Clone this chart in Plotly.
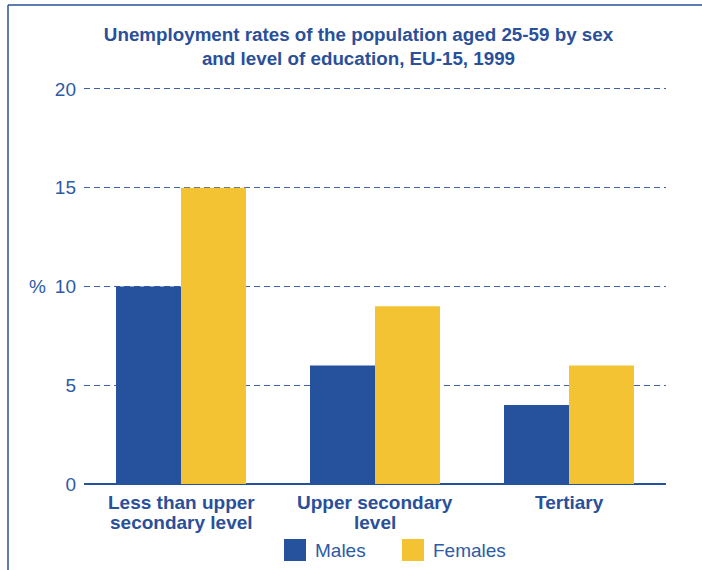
import plotly.graph_objects as go

categories = ["Less than upper<br>secondary level", "Upper secondary<br>level", "Tertiary"]
males = [10, 6, 4]
females = [15, 9, 6]
y_ticks = [0, 5, 10, 15, 20]
series_names = ["Males", "Females"]

BLUE = "#26519c"
YELLOW = "#f4c334"
TEXT = "#2a4f9b"
TICK = "#2d5aa6"
FONT = "Liberation Sans, Arial, sans-serif"

W, H = 702, 570
L, R, T, B = 84, 36, 87, 86
Y_MAX = 20.1

fig = go.Figure()
fig.add_trace(go.Bar(x=categories, y=males, name=series_names[0], marker_color=BLUE,
                     marker_line_width=0, showlegend=False))
fig.add_trace(go.Bar(x=categories, y=females, name=series_names[1], marker_color=YELLOW,
                     marker_line_width=0, showlegend=False))

pw = W - L - R
ph = H - T - B
def px_x(p):
    return (p - L) / pw
def px_y(p):
    return (H - B - p) / ph

annotations = [dict(text="%", xref="paper", yref="y", x=px_x(48), y=10,
                    xanchor="right", yanchor="middle", showarrow=False,
                    font=dict(size=19, color=TICK, family=FONT))]

# category captions, one annotation per line for tight line spacing
line_y = [502.5, 522.5]
for cat in categories:
    for i, part in enumerate(cat.split("<br>")):
        annotations.append(dict(text="<b>" + part + "</b>", xref="x", yref="paper",
                                x=cat, y=px_y(line_y[i]), xanchor="center",
                                yanchor="middle", showarrow=False,
                                font=dict(size=19, color=TEXT, family=FONT)))

# legend: square swatches with labels
shapes = []
swatch_left = [284, 402]
for name, col, sx in zip(series_names, [BLUE, YELLOW], swatch_left):
    shapes.append(dict(type="rect", xref="paper", yref="paper",
                       x0=px_x(sx), x1=px_x(sx + 22), y0=px_y(539), y1=px_y(561),
                       fillcolor=col, line=dict(width=0)))
    annotations.append(dict(text=name, xref="paper", yref="paper",
                            x=px_x(sx + 29), y=px_y(550), xanchor="left",
                            yanchor="middle", showarrow=False,
                            font=dict(size=19, color=TICK, family=FONT)))

# frame along the left and top edges
shapes += [
    dict(type="line", xref="paper", yref="paper",
         x0=px_x(8), x1=px_x(8), y0=px_y(5), y1=px_y(572),
         line=dict(color=TEXT, width=1.5)),
    dict(type="line", xref="paper", yref="paper",
         x0=px_x(8), x1=px_x(704), y0=px_y(5), y1=px_y(5),
         line=dict(color=TEXT, width=1.5)),
]

fig.update_layout(
    width=W, height=H,
    margin=dict(l=L, r=R, t=T, b=B, autoexpand=False),
    paper_bgcolor="white", plot_bgcolor="white",
    barmode="group", bargap=0.33, bargroupgap=0,
    showlegend=False,
    font=dict(family=FONT, color=TEXT, size=16),
    title=dict(text="<b>Unemployment rates of the population aged 25-59 by sex<br>and level of education, EU-15, 1999</b>",
               x=358.5 / W, xanchor="center",
               y=1 - 41 / H, yanchor="middle",
               font=dict(size=18.8, color=TEXT, family=FONT)),
    xaxis=dict(showgrid=False, showline=False, ticks="", showticklabels=False),
    yaxis=dict(range=[0, Y_MAX], tickvals=y_ticks, showgrid=True,
               gridcolor="#3d62aa", griddash="6px,4px", gridwidth=1,
               zeroline=True, zerolinecolor=BLUE, zerolinewidth=2,
               showline=False, ticks="", ticklabelstandoff=7,
               tickfont=dict(size=19, color=TICK, family=FONT)),
    annotations=annotations,
    shapes=shapes,
)

fig.write_html("out.html")
